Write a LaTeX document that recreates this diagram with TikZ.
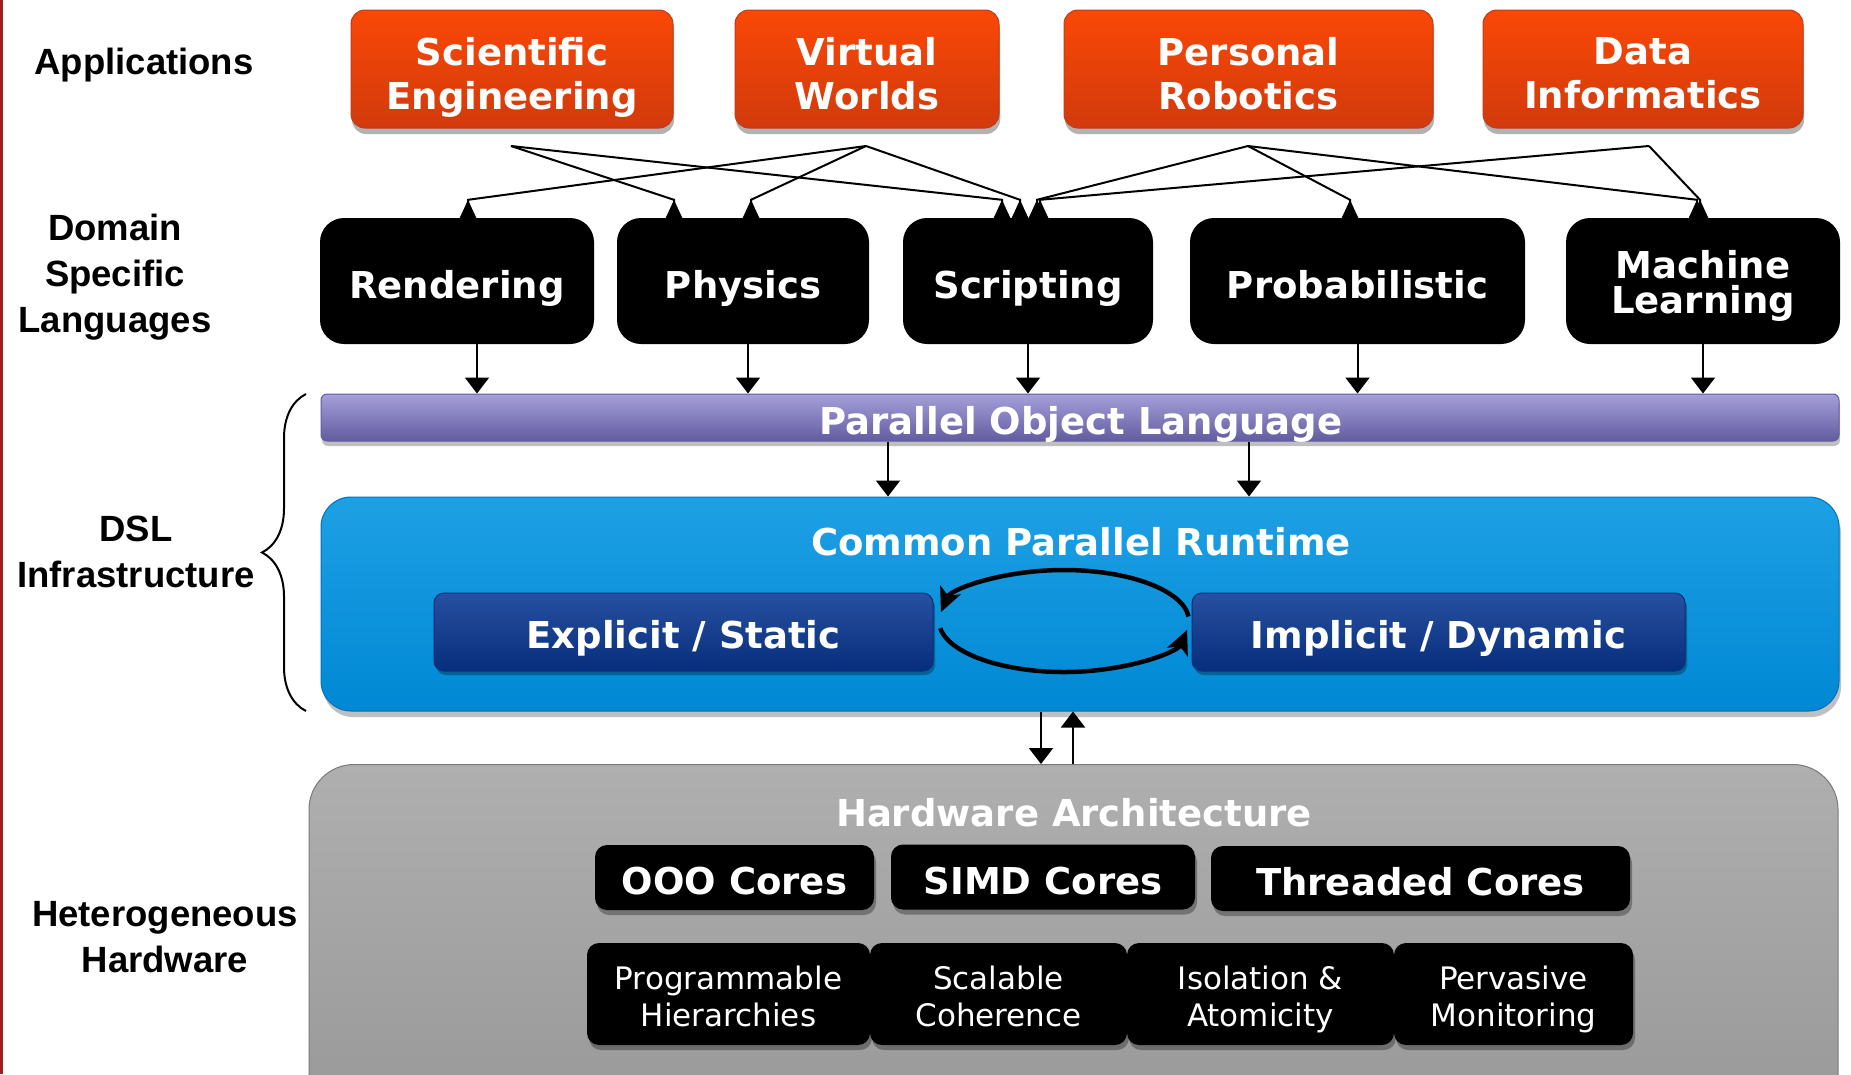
\documentclass[tikz,border=0pt]{standalone}
\usepackage{fontspec}
\setmainfont{Liberation Sans}
\newfontfamily\vfont{DejaVu Sans}
\usetikzlibrary{arrows.meta,shadows,decorations.pathreplacing,calc}
\definecolor{leftred}{RGB}{160,30,30}
\definecolor{orT}{RGB}{250,72,6}
\definecolor{orB}{RGB}{210,58,12}
\definecolor{orD}{RGB}{190,60,30}
\definecolor{polT}{RGB}{165,160,218}
\definecolor{polB}{RGB}{98,92,160}
\definecolor{cprT}{RGB}{30,160,228}
\definecolor{cprB}{RGB}{0,136,212}
\definecolor{cprD}{RGB}{0,115,190}
\definecolor{navT}{RGB}{40,80,160}
\definecolor{navB}{RGB}{6,46,124}
\definecolor{hwT}{RGB}{175,175,175}
\definecolor{hwB}{RGB}{152,152,152}
\newcommand\BoxBold{\vfont\bfseries\fontsize{37}{44}\selectfont}
\newcommand\BoxReg{\vfont\fontsize{31}{37}\selectfont}
\newcommand\SideFont{\bfseries\fontsize{36.5}{46}\selectfont}
\begin{document}
\begin{tikzpicture}[x=1pt,y=-1pt,
  lbl/.style={text=white,align=center,text depth=0pt,inner sep=0pt},
  app/.style={draw=orD,line width=1pt,rounded corners=14pt,top color=orT,bottom color=orB,
    minimum height=118,
    drop shadow={shadow xshift=1pt,shadow yshift=-6pt,opacity=.3,fill=black}},
  dsl/.style={fill=black,rounded corners=24pt,minimum height=126,text=white,font=\BoxBold,align=center},
  core/.style={fill=black,rounded corners=12pt,text=white,align=center,
    drop shadow={shadow xshift=2pt,shadow yshift=-5pt,opacity=.3,fill=black}},
  side/.style={font=\SideFont,align=center,text=black},
  conn/.style={line width=2pt,-{Triangle[length=16pt,width=24pt]}},
  upconn/.style={line width=2pt,-{Triangle[reversed,length=18pt,width=16pt]}},
  cyc/.style={line width=4.5pt,-{Stealth[length=24pt,width=22pt,inset=6pt]}}]
\clip (0,0) rectangle (1851,1074);
\fill[white] (0,0) rectangle (1851,1074);
\fill[leftred] (0,0) rectangle (3,1074);

% side labels
\node[side] (lapp) at (144,65) {Applications};
\node[side] (ldsl) at (115,277) {Domain\\Specific\\Languages};
\node[side] (linf) at (136,552) {DSL\\Infrastructure};
\node[side] (lhw) at (165,937) {Heterogeneous\\Hardware};
\draw[line width=2pt,decorate,decoration={brace,amplitude=44pt}] (306,711) -- (306,394);

% applications
\node[app,minimum width=322,label={[lbl,font=\BoxBold,yshift=-4.5pt]center:{Scientific\\Engineering}}] (se) at (512,69) {};
\node[app,minimum width=264,label={[lbl,font=\BoxBold,yshift=-4.5pt]center:{Virtual\\Worlds}}] (vw) at (867,69) {};
\node[app,minimum width=369,label={[lbl,font=\BoxBold,yshift=-4.5pt]center:{Personal\\Robotics}}] (pr) at (1248.5,69) {};
\node[app,minimum width=320,label={[lbl,font=\BoxBold,yshift=-4.5pt]center:{Data\\Informatics}}] (di) at (1643,69) {};

% DSLs
\node[dsl,minimum width=274,text height=34pt,text depth=0pt] (rend) at (457,281) {Rendering};
\node[dsl,minimum width=252,text height=34pt,text depth=0pt] (phys) at (743,281) {Physics};
\node[dsl,minimum width=250,text height=34pt,text depth=0pt] (scr) at (1028,281) {Scripting};
\node[dsl,minimum width=335,text height=34pt,text depth=0pt] (prob) at (1357.5,281) {Probabilistic};
\node[dsl,minimum width=274,label={[lbl,font=\vfont\bfseries\fontsize{37}{35}\selectfont,yshift=-1pt]center:{Machine\\Learning}}] (ml) at (1703,281) {};

% sources of app arrows
\coordinate (seS) at (511,146);
\coordinate (vwS) at (866,146);
\coordinate (prS) at (1248,146);
\coordinate (diS) at (1649,146);
\draw[upconn] (seS) -- ([xshift=-69pt,yshift=18pt]phys.north) -- ([xshift=-69pt]phys.north);
\draw[upconn] (seS) -- ([xshift=-26pt,yshift=18pt]scr.north) -- ([xshift=-26pt]scr.north);
\draw[upconn] (vwS) -- ([xshift=11pt,yshift=18pt]rend.north) -- ([xshift=11pt]rend.north);
\draw[upconn] (vwS) -- ([xshift=8pt,yshift=18pt]phys.north) -- ([xshift=8pt]phys.north);
\draw[upconn] (vwS) -- ([xshift=-8pt,yshift=18pt]scr.north) -- ([xshift=-8pt]scr.north);
\draw[upconn] (prS) -- ([xshift=9pt,yshift=18pt]scr.north) -- ([xshift=9pt]scr.north);
\draw[upconn] (prS) -- ([xshift=-7.5pt,yshift=18pt]prob.north) -- ([xshift=-7.5pt]prob.north);
\draw[upconn] (prS) -- ([xshift=-6pt,yshift=18pt]ml.north) -- ([xshift=-6pt]ml.north);
\draw[upconn] (diS) -- ([xshift=12pt,yshift=18pt]scr.north) -- ([xshift=12pt]scr.north);
\draw[upconn] (diS) -- ([xshift=-3pt,yshift=18pt]ml.north) -- ([xshift=-3pt]ml.north);

% parallel object language
\node[draw=polB,line width=1pt,rounded corners=6pt,top color=polT,bottom color=polB,
  minimum width=1518,minimum height=47,
  drop shadow={shadow xshift=1pt,shadow yshift=-5pt,opacity=.25,fill=black}] (pol) at (1080,417.5) {};
\node[text=white,font=\BoxBold] (polt) at (1081,424) {Parallel Object Language};

\draw[conn] ([xshift=20pt]rend.south) -- ([xshift=20pt]rend.south |- pol.north);
\draw[conn] ([xshift=5pt]phys.south) -- ([xshift=5pt]phys.south |- pol.north);
\draw[conn] (scr.south) -- (scr.south |- pol.north);
\draw[conn] (prob.south) -- (prob.south |- pol.north);
\draw[conn] (ml.south) -- (ml.south |- pol.north);

% common parallel runtime
\node[draw=cprD,line width=1pt,rounded corners=30pt,top color=cprT,bottom color=cprB,
  minimum width=1518,minimum height=214,
  drop shadow={shadow xshift=2pt,shadow yshift=-6pt,opacity=.25,fill=black}] (cpr) at (1080,604) {};
\node[text=white,font=\BoxBold] (cprt) at (1081,542) {Common Parallel Runtime};
\node[draw=navB,line width=1pt,rounded corners=10pt,top color=navT,bottom color=navB,
  minimum width=499,minimum height=78,text=white,font=\BoxBold,text height=32pt,text depth=0pt,
  drop shadow={shadow xshift=2pt,shadow yshift=-4pt,opacity=.3,fill=black}] (expl) at (683.5,632) {Explicit / Static};
\node[draw=navB,line width=1pt,rounded corners=10pt,top color=navT,bottom color=navB,
  minimum width=493,minimum height=78,text=white,font=\BoxBold,text height=32pt,text depth=0pt,
  drop shadow={shadow xshift=2pt,shadow yshift=-4pt,opacity=.3,fill=black}] (impl) at (1438.5,632) {Implicit / Dynamic};

\draw[conn] (888,0 |- pol.south) -- (888,0 |- cpr.north);
\draw[conn] (1249,0 |- pol.south) -- (1249,0 |- cpr.north);

\coordinate (cycC) at (1064,621);
\draw[cyc] (cycC) ++(-5:125 and 51) arc[start angle=-5,end angle=-170,x radius=125,y radius=51];
\draw[cyc] (cycC) ++(172:125 and 51) arc[start angle=172,end angle=10,x radius=125,y radius=51];

% hardware
\node[draw=hwB!80!black,line width=1pt,rounded corners=45pt,top color=hwT,bottom color=hwB,
  minimum width=1529,minimum height=360,anchor=north] (hw) at (1073.5,764) {};
\node[text=white,font=\BoxBold] (hwt) at (1074,813) {Hardware Architecture};

\draw[conn] (1041,0 |- cpr.south) -- (1041,0 |- hw.north);
\draw[conn] (1073,0 |- hw.north) -- (1073,0 |- cpr.south);

\node[core,minimum width=279,minimum height=65,font=\BoxBold,text height=34pt,text depth=0pt] (ooo) at (734.5,877.5) {OOO Cores};
\node[core,minimum width=304,minimum height=65,font=\BoxBold,text height=34pt,text depth=0pt] (simd) at (1043,877) {SIMD Cores};
\node[core,minimum width=419,minimum height=65,font=\BoxBold,text height=34pt,text depth=0pt] (thr) at (1420.5,878.5) {Threaded Cores};

\node[core,minimum width=283,minimum height=102,label={[lbl,font=\BoxReg,yshift=-2.5pt]center:{Programmable\\Hierarchies}}] (prog) at (728.5,994) {};
\node[core,minimum width=257,minimum height=102,label={[lbl,font=\BoxReg,yshift=-2.5pt]center:{Scalable\\Coherence}}] (scal) at (998.5,994) {};
\node[core,minimum width=267,minimum height=102,label={[lbl,font=\BoxReg,yshift=-2.5pt]center:{Isolation \&\\Atomicity}}] (iso) at (1260.5,994) {};
\node[core,minimum width=239,minimum height=102,label={[lbl,font=\BoxReg,yshift=-2.5pt]center:{Pervasive\\Monitoring}}] (perv) at (1513.5,994) {};
\end{tikzpicture}
\end{document}
